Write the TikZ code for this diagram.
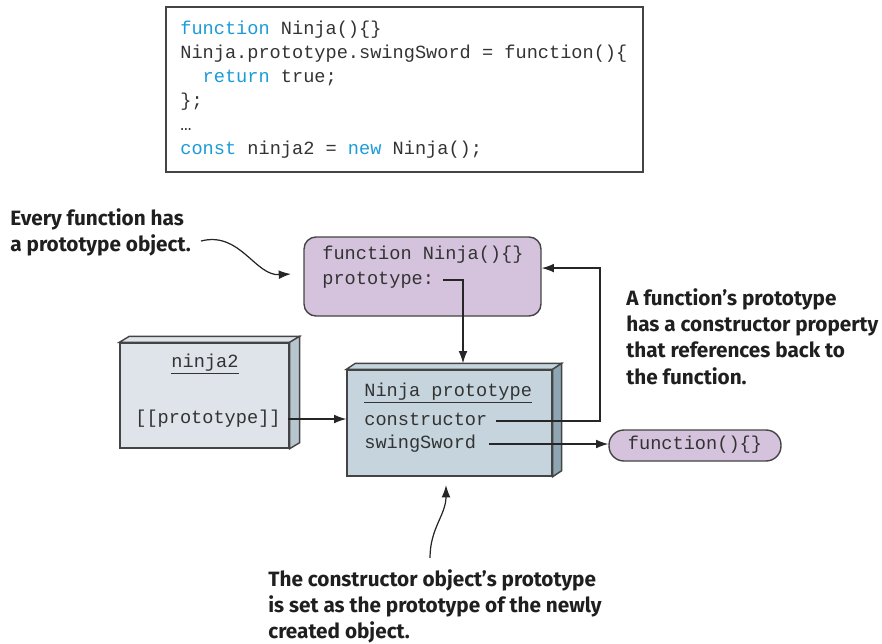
\documentclass[tikz,border=0pt]{standalone}
\usepackage{fontspec}
\setmainfont{Fira Sans}
\setmonofont{Liberation Mono}
\usetikzlibrary{arrows.meta}
\definecolor{fnpurple}{HTML}{D5C3DE}
\definecolor{kwblue}{HTML}{1B9BD7}
\definecolor{objfront}{HTML}{DEE4EA}
\definecolor{objside}{HTML}{B7C5CF}
\definecolor{protofront}{HTML}{C6D5DD}
\definecolor{protoside}{HTML}{8EA5B2}
\definecolor{edgegray}{HTML}{444444}
\definecolor{codetext}{HTML}{333333}

\begin{document}
\begin{tikzpicture}[x=0.02cm,y=-0.02cm,>={Latex[length=7pt,width=5pt]},
    mono/.style={font=\fontsize{10.6}{13.6}\selectfont\ttfamily,text=codetext,
                 inner xsep=4pt,inner ysep=0pt,text height=7pt,text depth=2pt},
    codeline/.style={mono,inner xsep=0pt,anchor=west},
    note/.style={font=\fontsize{11.8}{15}\selectfont\bfseries,text=black!88,
                 align=left,inner sep=0pt,anchor=north west},
    face/.style={draw=edgegray,line width=0.8pt},
    link/.style={draw=black!85,line width=0.7pt}]
    \useasboundingbox (0,0) rectangle (882,643);

    \node[draw=edgegray,line width=0.7pt,minimum width=9.54cm,minimum height=3.3cm,
          inner sep=0pt] (codebox) at (404.5,89.5) {};
    \node[codeline] (codeA) at (180,30) {\textcolor{kwblue}{function} Ninja()\{\}};
    \node[codeline] (codeB) at (180,54) {Ninja.prototype.swingSword = function()\{};
    \node[codeline] (codeC) at (180,78) {\hphantom{xx}\textcolor{kwblue}{return} true;};
    \node[codeline] (codeD) at (180,102) {\};};
    \node[codeline] (codeE) at (180,126) {…};
    \node[codeline] (codeF) at (180,150) {\textcolor{kwblue}{const} ninja2 = \textcolor{kwblue}{new} Ninja();};

    \node[face,fill=fnpurple,rounded corners=6.8pt,minimum width=4.74cm,
          minimum height=1.58cm] (fnbox) at (422.5,276.5) {};
    \node[mono,anchor=west,inner xsep=0pt] (fnname) at (322,255) {function Ninja()\{\}};
    \node[mono,anchor=west,inner xsep=0pt] (fnproto) at (322,280) {prototype:};

    \node[face,fill=objfront,minimum width=3.38cm,minimum height=2.1cm] (objface) at (204.5,395.5) {};
    \draw[face,fill=objfront] (objface.north west) -- ([shift={(10,-6)}]objface.north west)
        -- ([shift={(10,-6)}]objface.north east) -- (objface.north east) -- cycle;
    \draw[face,fill=objside] (objface.north east) -- ([shift={(10,-6)}]objface.north east)
        -- ([shift={(10,-6)}]objface.south east) -- (objface.south east) -- cycle;
    \node[mono] (objname) at (205,363) {\underline{ninja2}};
    \node[mono,anchor=west,inner xsep=0pt] (objproto) at (135,419) {[[prototype]]};

    \node[face,fill=protofront,minimum width=4.1cm,minimum height=2.12cm] (protoface) at (449.5,423) {};
    \draw[face,fill=protofront] (protoface.north west) -- ([shift={(9,-6)}]protoface.north west)
        -- ([shift={(9,-6)}]protoface.north east) -- (protoface.north east) -- cycle;
    \draw[face,fill=protoside] (protoface.north east) -- ([shift={(9,-6)}]protoface.north east)
        -- ([shift={(9,-6)}]protoface.south east) -- (protoface.south east) -- cycle;
    \node[mono,anchor=west,inner xsep=0pt] (protoname) at (364,392) {\underline{Ninja prototype}};
    \node[mono,anchor=west,inner xsep=0pt] (ctor) at (364,421) {constructor};
    \node[mono,anchor=west,inner xsep=0pt] (swing) at (364,444) {swingSword};

    \node[face,fill=fnpurple,rounded corners=8.5pt,minimum width=3.44cm,
          minimum height=0.62cm] (anon) at (695,445.5) {};
    \node[mono] (anontext) at (695,445) {function()\{\}};

    \node[note] (leftnote) at (10,208) {Every function has\\a prototype object.};
    \node[note] (rightnote) at (626,288) {A function’s prototype\\has a constructor property\\that references back to\\the function.};
    \node[note] (bottomnote) at (268,569) {The constructor object’s prototype\\is set as the prototype of the newly\\created object.};

    \coordinate (drop) at (463,280);
    \coordinate (prototop) at ([yshift=3.4pt]protoface.north);
    \coordinate (backup) at (600,421);
    \coordinate (tailA) at (201,241);
    \coordinate (headA) at (291,274);
    \coordinate (tailB) at (430,558);
    \coordinate (headB) at (446,485);

    \draw[link,->] ([xshift=5pt]fnproto.east) -- (drop) -- (drop |- prototop);
    \draw[link,->] ([xshift=4pt]objproto.east) -- (objproto.east -| protoface.west);
    \draw[link,->] ([xshift=5pt]ctor.east) -- (backup) |- ([yshift=4.8pt]fnbox.east);
    \draw[link,->] ([xshift=7pt]swing.east) -- (swing.east -| anon.west);
    \draw[link,->] (tailA) .. controls (240,231) and (255,276) .. (headA);
    \draw[link,->] (tailB) .. controls (430,528) and (446,515) .. (headB);
\end{tikzpicture}
\end{document}
